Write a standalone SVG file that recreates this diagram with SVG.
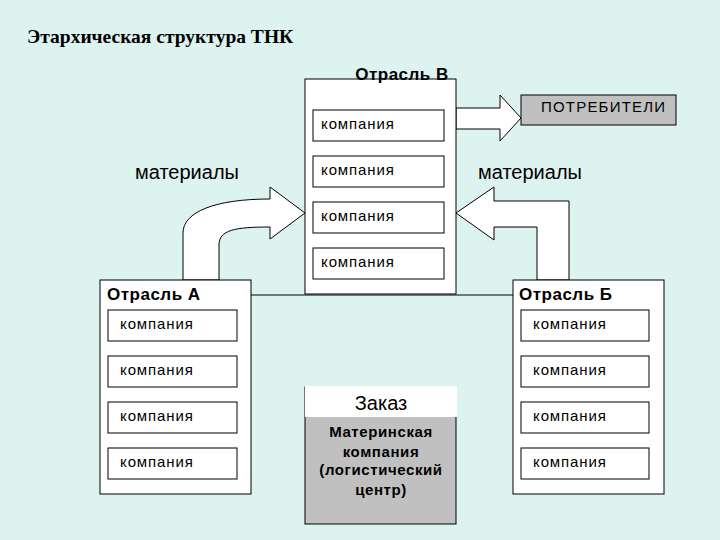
<svg xmlns="http://www.w3.org/2000/svg" width="720" height="540" viewBox="0 0 720 540">
<style>
.box{fill:#fff;stroke:#000;stroke-width:1}
.t{font-family:"Liberation Sans",Arial,sans-serif;fill:#000}
.c{font-size:15px;letter-spacing:0.9px}
.b{font-size:17px;font-weight:bold;letter-spacing:0.5px}
.m{font-size:15px;font-weight:bold;letter-spacing:0.6px}
.arr{fill:#fff;stroke:#000;stroke-width:1}
</style>
<rect width="720" height="540" fill="#DDF3EF"/>
<text x="27" y="43" font-family="Liberation Serif,serif" font-size="19.5" font-weight="bold">Этархическая структура ТНК</text>
<g id="connectors">
<line x1="251" y1="295" x2="513" y2="295" stroke="#000"/>
<path class="arr" d="M456,108 H500 V95 L521,118 L500,141 V129 H456 Z"/>
<path class="arr" d="M183,280 V233 C183,212 215,199 270,199 V187 L305,213 L270,239 V227 C235,227 219,230 219,245 V280 Z"/>
<path class="arr" d="M569,280 V201 H494 V187 L456,213 L494,240 V227 H537 V280 Z"/>
</g>
<text class="t" x="135" y="179" font-size="20">материалы</text>
<text class="t" x="478" y="179" font-size="20">материалы</text>
<g id="consumers">
<rect x="521" y="95" width="155" height="30" fill="#C0C0C0" stroke="#000"/>
<text class="t" x="541" y="112" font-size="15" letter-spacing="1.2">ПОТРЕБИТЕЛИ</text>
</g>
<g id="otrasl-v">
<rect class="box" x="305" y="79" width="151" height="215"/>
<text class="t b" x="402" y="80" text-anchor="middle">Отрасль В</text>
<rect class="box" x="313" y="110" width="131" height="31"/><text class="t c" x="321" y="129">компания</text>
<rect class="box" x="313" y="156" width="131" height="31"/><text class="t c" x="321" y="175">компания</text>
<rect class="box" x="313" y="202" width="131" height="31"/><text class="t c" x="321" y="221">компания</text>
<rect class="box" x="313" y="248" width="131" height="31"/><text class="t c" x="321" y="267">компания</text>
</g>
<g id="otrasl-a">
<rect class="box" x="100" y="280" width="151" height="214"/>
<text class="t b" x="107" y="300">Отрасль А</text>
<rect class="box" x="108" y="310" width="129" height="31"/><text class="t c" x="120" y="329">компания</text>
<rect class="box" x="108" y="356" width="129" height="31"/><text class="t c" x="120" y="375">компания</text>
<rect class="box" x="108" y="402" width="129" height="31"/><text class="t c" x="120" y="421">компания</text>
<rect class="box" x="108" y="448" width="129" height="31"/><text class="t c" x="120" y="467">компания</text>
</g>
<g id="otrasl-b">
<rect class="box" x="513" y="280" width="151" height="214"/>
<text class="t b" x="519" y="300">Отрасль Б</text>
<rect class="box" x="521" y="310" width="128" height="31"/><text class="t c" x="533" y="329">компания</text>
<rect class="box" x="521" y="356" width="128" height="31"/><text class="t c" x="533" y="375">компания</text>
<rect class="box" x="521" y="402" width="128" height="31"/><text class="t c" x="533" y="421">компания</text>
<rect class="box" x="521" y="448" width="128" height="31"/><text class="t c" x="533" y="467">компания</text>
</g>
<g id="mother">
<rect x="305" y="387" width="151" height="137" fill="#C0C0C0" stroke="#000"/>
<rect x="305" y="386" width="152" height="31" fill="#fff"/>
<text class="t" x="381" y="410" font-size="20" text-anchor="middle">Заказ</text>
<text class="t m" x="381" y="437" text-anchor="middle">Материнская</text>
<text class="t m" x="381" y="457" text-anchor="middle">компания</text>
<text class="t m" x="381" y="475" text-anchor="middle">(логистический</text>
<text class="t m" x="381" y="495" text-anchor="middle">центр)</text>
</g>
</svg>
